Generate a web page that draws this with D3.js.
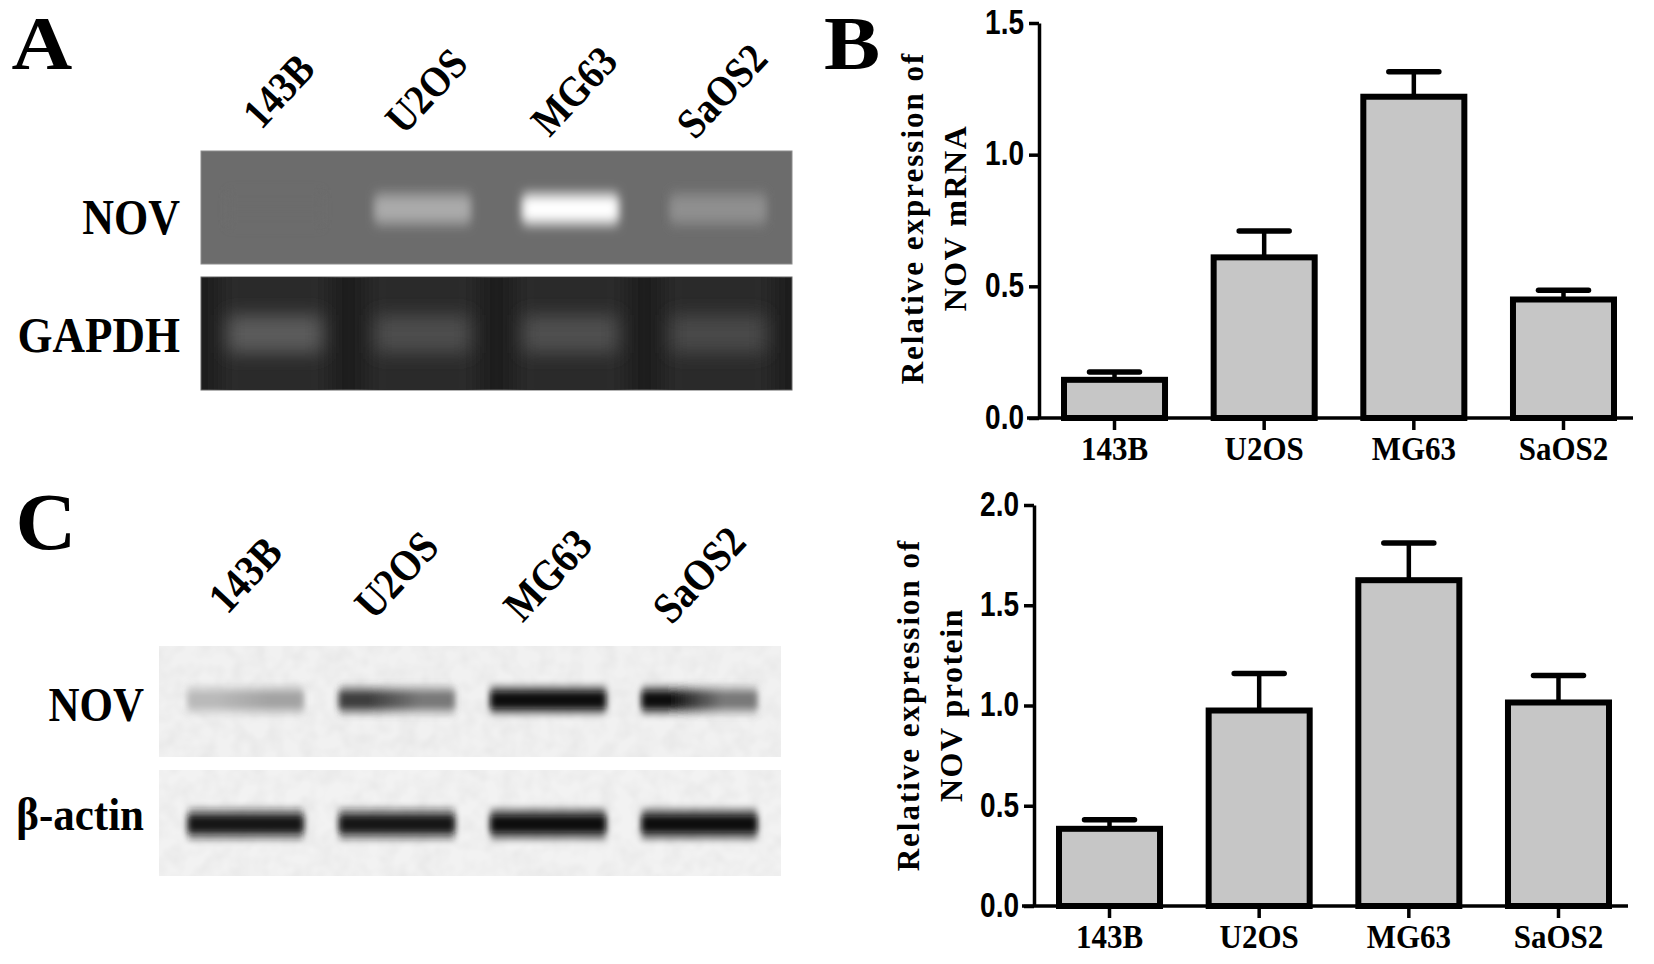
<!DOCTYPE html>
<html>
<head>
<meta charset="utf-8">
<script src="https://cdn.jsdelivr.net/npm/d3@7"></script>
<style>
  html, body { margin: 0; background: #fff; }
  svg { display: block; }
  text { fill: #000; font-weight: bold; font-family: "Liberation Serif", serif; }
  .yticks text { font-family: "Liberation Sans", sans-serif; }
</style>
</head>
<body>
<div id="chart"></div>
<script>
const categories = ["143B", "U2OS", "MG63", "SaOS2"];

const mrnaValues = [0.145, 0.61, 1.22, 0.45];
const mrnaErrTop = [0.175, 0.71, 1.315, 0.485];
const mrnaTicks = [0, 0.5, 1, 1.5];

const proteinValues = [0.385, 0.975, 1.625, 1.015];
const proteinErrTop = [0.43, 1.16, 1.81, 1.15];
const proteinTicks = [0, 0.5, 1, 1.5, 2];

// band strength per lane, read by eye from the gels (left side, right side)
const pcrNov = [[0, 0], [0.42, 0.42], [1, 1], [0.24, 0.24]];
const pcrGapdh = [[0.42, 0.42], [0.32, 0.32], [0.34, 0.34], [0.3, 0.3]];
const blotNov = [[0.2, 0.3], [0.78, 0.5], [1, 1], [0.98, 0.5]];
const blotActin = [[0.95, 0.95], [0.95, 0.95], [1, 1], [1, 1]];

const width = 1654, height = 964;
const svg = d3.select("#chart").append("svg").attr("width", width).attr("height", height);

const defs = svg.append("defs");
[["blur3", 3], ["blur5", 5], ["blur9", 9]].forEach(([id, s]) => {
    defs.append("filter").attr("id", id)
        .attr("x", "-30%").attr("y", "-100%").attr("width", "160%").attr("height", "300%")
        .append("feGaussianBlur").attr("stdDeviation", s);
});

// faint mottling on the blot membranes
const mottle = defs.append("filter").attr("id", "mottle");
mottle.append("feTurbulence").attr("type", "fractalNoise").attr("baseFrequency", 0.06).attr("numOctaves", 2).attr("seed", 4);
mottle.append("feColorMatrix").attr("values", "0 0 0 0 0.5  0 0 0 0 0.5  0 0 0 0 0.5  0.3 0 0 0 -0.1");

// text stretched vertically, the figure's fonts are a bit condensed
const label = (x, y, str, size, opts = {}) => svg.append("text")
    .attr("transform", `translate(${x},${y}) rotate(${opts.rotate || 0}) scale(${opts.sx || 1},${opts.sy || 1})`)
    .attr("text-anchor", opts.anchor || "middle")
    .attr("dominant-baseline", opts.base || "auto")
    .style("font-size", size + "px")
    .style("letter-spacing", (opts.spacing || 0) + "px")
    .text(str);

const drawGel = (conf) => {
    const g = svg.append("g");
    const y0 = conf.y, h = conf.h;
    const clipId = "clip" + conf.id;
    defs.append("clipPath").attr("id", clipId).append("rect")
        .attr("x", conf.x0).attr("y", y0).attr("width", conf.x1 - conf.x0).attr("height", h);
    g.append("rect").attr("x", conf.x0).attr("y", y0).attr("width", conf.x1 - conf.x0).attr("height", h)
        .attr("fill", conf.bg).attr("stroke", conf.edge || "none");
    const inner = g.append("g").attr("clip-path", `url(#${clipId})`);
    if (conf.mottle) {
        inner.append("rect").attr("x", conf.x0).attr("y", y0).attr("width", conf.x1 - conf.x0).attr("height", h)
            .attr("filter", "url(#mottle)");
    }
    if (conf.glow) {
        inner.selectAll(".glow").data(categories).enter().append("rect")
            .attr("x", d => conf.lane(d) - 8).attr("width", conf.lane.bandwidth() + 16)
            .attr("y", y0 - 20).attr("height", h + 40)
            .attr("fill", conf.glow).attr("filter", "url(#blur9)");
    }
    const color = d3.scaleLinear().domain([0, 1]).range(conf.colors).clamp(true);
    conf.values.forEach((pair, i) => {
        const gradId = `grad${conf.id}${i}`;
        const grad = defs.append("linearGradient").attr("id", gradId);
        grad.append("stop").attr("offset", "25%").attr("stop-color", color(pair[0]));
        grad.append("stop").attr("offset", "70%").attr("stop-color", color(pair[1]));
        const x = conf.lane(categories[i]);
        if (conf.haloH) {
            inner.append("rect")
                .attr("x", x).attr("width", conf.lane.bandwidth())
                .attr("y", y0 + conf.bandY - conf.haloH / 2).attr("height", conf.haloH)
                .attr("fill", `url(#${gradId})`).attr("fill-opacity", conf.haloOpacity)
                .attr("filter", `url(#${conf.blur})`);
        }
        inner.append("rect")
            .attr("x", x).attr("width", conf.lane.bandwidth())
            .attr("y", y0 + conf.bandY - conf.bandH / 2).attr("height", conf.bandH)
            .attr("fill", `url(#${gradId})`)
            .attr("filter", `url(#${conf.blur})`);
    });
};

const drawBars = (conf) => {
    const x = d3.scaleBand().domain(categories).range([conf.left + 25, conf.left + 575]).paddingInner(0.325).paddingOuter(0);
    const y = d3.scaleLinear().domain(conf.domain).range([conf.bottom, conf.top]);
    const g = svg.append("g");
    const sw = 6;

    g.selectAll(".err").data(categories).enter().append("line")
        .attr("x1", d => x(d) + x.bandwidth() / 2).attr("x2", d => x(d) + x.bandwidth() / 2)
        .attr("y1", (d, i) => y(conf.values[i])).attr("y2", (d, i) => y(conf.errTop[i]))
        .attr("stroke", "#000").attr("stroke-width", 4.5);
    g.selectAll(".cap").data(categories).enter().append("line")
        .attr("x1", d => x(d) + x.bandwidth() / 2 - 25).attr("x2", d => x(d) + x.bandwidth() / 2 + 25)
        .attr("y1", (d, i) => y(conf.errTop[i])).attr("y2", (d, i) => y(conf.errTop[i]))
        .attr("stroke", "#000").attr("stroke-width", 5.5).attr("stroke-linecap", "round");
    g.selectAll(".bar").data(categories).enter().append("rect")
        .attr("x", d => x(d)).attr("width", x.bandwidth())
        .attr("y", (d, i) => y(conf.values[i]))
        .attr("height", (d, i) => conf.bottom - y(conf.values[i]))
        .attr("fill", "#c6c6c6").attr("stroke", "#000").attr("stroke-width", sw);

    const yAxis = g.append("g").attr("class", "yticks").attr("transform", `translate(${conf.left},0)`)
        .call(d3.axisLeft(y).tickValues(conf.ticks).tickFormat(d3.format(".1f")).tickSize(10).tickSizeOuter(0).tickPadding(5));
    yAxis.selectAll("path,line").attr("stroke", "#000").attr("stroke-width", 3.5);
    yAxis.selectAll("text").style("font-size", "28px").attr("dy", "0.3em").attr("transform", "scale(1,1.22)");

    const xAxis = g.append("g").attr("transform", `translate(0,${conf.bottom})`)
        .call(d3.axisBottom(x).tickSize(12).tickSizeOuter(0).tickPadding(4));
    xAxis.select("path").attr("d", `M${conf.left - 12},0H${conf.left + 594}`).attr("stroke", "#000").attr("stroke-width", 3.5);
    xAxis.selectAll("line").attr("stroke", "#000").attr("stroke-width", 3.5);
    xAxis.selectAll("text").style("font-size", "31px").style("font-family", "Liberation Serif").attr("transform", "scale(1,1.1)");
};

// panel A
const laneA = d3.scaleBand().domain(categories).range([201, 792]).paddingInner(0.36).paddingOuter(0.18);
drawGel({ id: "a1", x0: 201, x1: 792, y: 151, h: 113, bg: "#6c6c6c", edge: "#8c8c8c", lane: laneA, values: pcrNov,
    colors: ["#6c6c6c", "#ffffff"], bandY: 58, bandH: 22, blur: "blur5", haloH: 38, haloOpacity: 0.45 });
drawGel({ id: "a2", x0: 201, x1: 792, y: 277, h: 113, bg: "#1e1e1e", edge: "#666666", lane: laneA, values: pcrGapdh,
    colors: ["#1e1e1e", "#b0b0b0"], bandY: 57, bandH: 38, blur: "blur9", glow: "#2a2a2a" });

// panel C
const laneC = d3.scaleBand().domain(categories).range([170, 775]).paddingInner(0.24).paddingOuter(0.12);
drawGel({ id: "c1", x0: 159, x1: 781, y: 646, h: 111, bg: "#f1f1f1", lane: laneC, values: blotNov, mottle: true,
    colors: ["#e4e4e4", "#0c0c0c"], bandY: 54, bandH: 17, blur: "blur3", haloH: 30, haloOpacity: 0.4 });
drawGel({ id: "c2", x0: 159, x1: 781, y: 770, h: 106, bg: "#f2f2f2", lane: laneC, values: blotActin, mottle: true,
    colors: ["#e4e4e4", "#0a0a0a"], bandY: 54, bandH: 17, blur: "blur3", haloH: 32, haloOpacity: 0.45 });

// panel letters
label(42, 69, "A", 78, { sx: 1.08, sy: 0.98 });
label(852, 69, "B", 78, { sx: 1.08, sy: 0.98 });
label(46, 549, "C", 78, { sx: 1.08, sy: 1.02 });

// gel row labels
label(180, 234, "NOV", 44, { anchor: "end", sy: 1.15 });
label(180, 352, "GAPDH", 45, { anchor: "end", sy: 1.13 });
label(144, 721, "NOV", 43, { anchor: "end", sy: 1.12 });
label(144, 830, "β-actin", 43, { anchor: "end", sy: 1.08 });

// slanted lane labels
categories.forEach(c => {
    const ax = laneA(c) + laneA.bandwidth() / 2 + 7;
    const cx = laneC(c) + laneC.bandwidth() / 2 + 3;
    label(ax, 94, c, 39, { rotate: -47, base: "middle", sx: 0.97, sy: 1.1 });
    label(cx, 578, c, 40, { rotate: -47, base: "middle", sx: 0.97, sy: 1.1 });
});

// panels B and D
drawBars({ left: 1039, top: 23, bottom: 418, domain: [0, 1.5], ticks: mrnaTicks, values: mrnaValues, errTop: mrnaErrTop });
drawBars({ left: 1034, top: 505, bottom: 906, domain: [0, 2], ticks: proteinTicks, values: proteinValues, errTop: proteinErrTop });

label(923, 218, "Relative expression of", 31, { rotate: -90, spacing: 2 });
label(966, 218, "NOV mRNA", 32, { rotate: -90, spacing: 1.5 });
label(919, 705, "Relative expression of", 31, { rotate: -90, spacing: 2 });
label(962, 705, "NOV protein", 32, { rotate: -90, spacing: 1.5 });
</script>
</body>
</html>
